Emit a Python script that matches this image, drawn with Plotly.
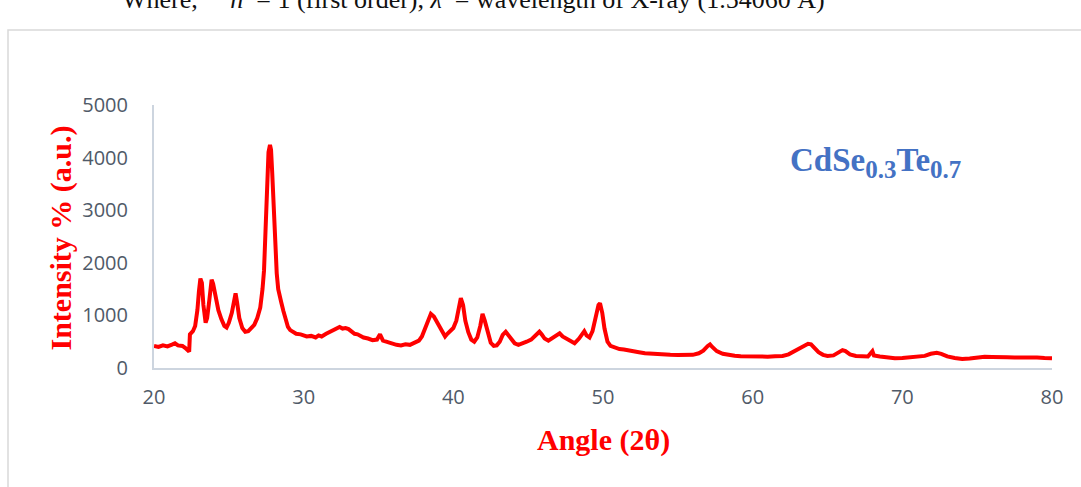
import plotly.graph_objects as go

angle = [20.0, 20.3, 20.6, 20.9, 21.2, 21.4, 21.6, 21.9, 22.1, 22.3, 22.35, 22.4, 22.6, 22.75, 22.9,
         23.0, 23.1, 23.2, 23.3, 23.45, 23.55, 23.7, 23.85, 23.95, 24.1, 24.3, 24.5, 24.7, 24.85, 25.0,
         25.2, 25.35, 25.45, 25.55, 25.7, 25.9, 26.1, 26.3, 26.5, 26.7, 26.9, 27.1, 27.25, 27.35, 27.45,
         27.55, 27.65, 27.75, 27.82, 27.9, 28.0, 28.1, 28.2, 28.3, 28.4, 28.5, 28.65, 28.8, 28.95, 29.1,
         29.3, 29.5, 29.8, 30.0, 30.2, 30.5, 30.8, 31.0, 31.2, 31.5, 31.8, 32.1, 32.4, 32.6, 32.8,
         33.0, 33.2, 33.4, 33.6, 33.8, 34.0, 34.3, 34.6, 34.9, 35.1, 35.3, 35.6, 35.9, 36.2, 36.5,
         36.8, 37.1, 37.4, 37.7, 37.9, 38.1, 38.3, 38.5, 38.7, 38.9, 39.1, 39.3, 39.45, 39.6, 39.8,
         40.0, 40.2, 40.35, 40.5, 40.65, 40.8, 41.0, 41.2, 41.4, 41.6, 41.8, 41.95, 42.1, 42.3, 42.5,
         42.7, 42.9, 43.1, 43.3, 43.5, 43.7, 43.9, 44.1, 44.35, 44.6, 44.9, 45.2, 45.5, 45.75, 45.9,
         46.1, 46.35, 46.6, 46.9, 47.1, 47.3, 47.5, 47.8, 48.1, 48.4, 48.6, 48.75, 48.9, 49.1, 49.3,
         49.5, 49.7, 49.8, 49.95, 50.1, 50.3, 50.5, 50.8, 51.1, 51.4, 51.7, 52.0, 52.4, 52.8, 53.2,
         53.6, 54.0, 54.5, 55.0, 55.5, 56.0, 56.4, 56.7, 57.0, 57.15, 57.3, 57.6, 58.0, 58.4, 58.8,
         59.2, 59.6, 60.0, 60.5, 61.0, 61.5, 62.0, 62.4, 62.8, 63.1, 63.4, 63.7, 63.9, 64.1, 64.4,
         64.7, 65.0, 65.4, 65.7, 66.0, 66.2, 66.5, 66.9, 67.3, 67.7, 68.0, 68.1, 68.5, 69.0, 69.5,
         70.0, 70.5, 71.0, 71.5, 71.9, 72.3, 72.6, 73.0, 73.5, 74.0, 74.5, 75.0, 75.5, 76.0, 76.5,
         77.0, 77.5, 78.0, 78.5, 79.0, 79.5, 80.0]

intensity = [420, 400, 430, 410, 445, 470, 430, 420, 380, 330, 310, 640, 700, 800, 1100,
             1450, 1700, 1620, 1200, 860, 950, 1300, 1680, 1600, 1380, 1100, 930, 800, 770, 860,
             1050, 1350, 1420, 1250, 950, 760, 690, 700, 760, 820, 950, 1150, 1500, 1850, 2600,
             3600, 4100, 4240, 4150, 3700, 3000, 2300, 1800, 1500, 1400, 1250, 1080, 900, 780, 720,
             680, 650, 640, 620, 600, 610, 580, 620, 600, 650, 690, 720, 780, 750, 760,
             740, 690, 650, 640, 600, 580, 560, 530, 540, 640, 520, 490, 450, 440, 430,
             450, 440, 470, 520, 600, 750, 920, 1030, 980, 880, 800, 680, 600, 650, 700,
             760, 900, 1150, 1330, 1200, 900, 680, 540, 500, 580, 800, 1030, 900, 650, 480,
             420, 430, 500, 630, 690, 620, 520, 470, 440, 460, 500, 540, 620, 690, 640,
             560, 520, 560, 620, 660, 600, 570, 520, 470, 560, 640, 700, 620, 580, 700,
             950, 1200, 1230, 1050, 750, 500, 420, 380, 360, 350, 330, 320, 300, 280, 270,
             260, 255, 250, 245, 240, 250, 280, 330, 420, 450, 400, 320, 270, 245, 235,
             225, 220, 220, 215, 215, 225, 230, 260, 320, 360, 400, 460, 450, 380, 300,
             250, 230, 240, 290, 340, 320, 260, 230, 225, 220, 320, 240, 220, 200, 185,
             190, 200, 210, 230, 270, 290, 270, 220, 190, 170, 180, 200, 215, 210, 200,
             205, 200, 205, 195, 200, 190, 185]

x_ticks = [20, 30, 40, 50, 60, 70, 80]
y_ticks = [0, 1000, 2000, 3000, 4000, 5000]

fig = go.Figure()
fig.add_trace(go.Scatter(x=angle, y=intensity, mode="lines",
                         line=dict(color="#ff0000", width=4), showlegend=False))

tick_font = dict(family="Open Sans", size=20, color="#505a68")
axis_line = "#cdd5df"

fig.update_layout(
    width=1081, height=487,
    margin=dict(l=154, r=29, t=105, b=119),
    paper_bgcolor="white", plot_bgcolor="white",
    xaxis=dict(range=[20, 80], tickvals=x_ticks, showgrid=False, zeroline=False,
               showline=True, linecolor=axis_line, linewidth=2, ticks="",
               tickfont=tick_font, ticklabelstandoff=10),
    yaxis=dict(range=[0, 5000], tickvals=y_ticks, showgrid=False, zeroline=False,
               showline=True, linecolor=axis_line, linewidth=2, ticks="",
               tickfont=tick_font, ticklabelstandoff=20),
    annotations=[
        dict(text="Intensity % (a.u.)", xref="paper", yref="paper", x=-0.1036, y=0.496,
             xanchor="center", yanchor="middle", textangle=-90, showarrow=False,
             font=dict(family="Liberation Serif", size=30, color="#ff0000", weight="bold")),
        dict(text="Angle (2θ)", xref="paper", yref="paper", x=0.5, y=-0.274,
             xanchor="center", yanchor="middle", showarrow=False,
             font=dict(family="Liberation Serif", size=30, color="#ff0000", weight="bold")),
        dict(text="CdSe<sub><span style='font-size:25px'>0.3</span></sub>Te<sub><span style='font-size:25px'>0.7</span></sub>",
             xref="paper", yref="paper", x=0.706, y=0.78,
             xanchor="left", yanchor="middle", showarrow=False,
             font=dict(family="Liberation Serif", size=33, color="#4472c4", weight="bold")),
        dict(text="Where,     <i>n</i>  = 1 (first order), <i>λ</i>  = wavelength of X-ray (1.54060 Å)",
             xref="paper", yref="paper", x=(120 - 154) / 898, y=(368 - 16) / 263,
             xanchor="left", yanchor="bottom", showarrow=False,
             font=dict(family="Liberation Serif", size=26, color="#111111")),
    ],
    shapes=[
        dict(type="rect", xref="paper", yref="paper",
             x0=(8 - 154) / 898, x1=1.05, y0=-0.6, y1=(368 - 30) / 263,
             line=dict(color="#d9d9d9", width=1.5), fillcolor="rgba(0,0,0,0)", layer="below"),
    ],
)

fig.write_html("out.html", config={"displayModeBar": False},
               post_script="document.body.style.margin='0';")
